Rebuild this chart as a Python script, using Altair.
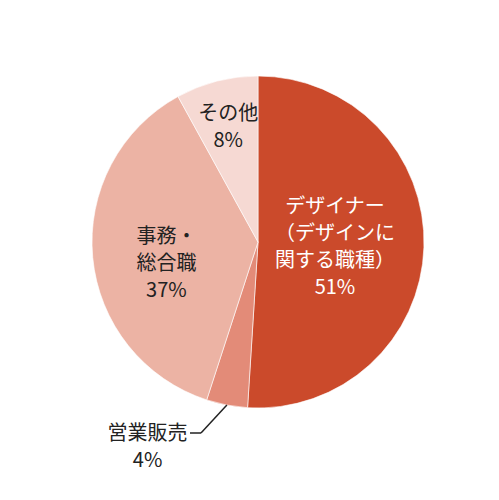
import altair as alt
import pandas as pd

categories = ["デザイナー（デザインに関する職種）", "営業販売", "事務・総合職", "その他"]
values = [51, 4, 37, 8]
label_names = ["デザイナー\n（デザインに\n関する職種）", "営業販売", "事務・\n総合職", "その他"]
colors = ["#CB4A2B", "#E38B78", "#ECB3A4", "#F6D9D3"]

df = pd.DataFrame({
    "order": list(range(len(categories))),
    "category": categories,
    "value": values,
    "label": [f"{n}\n{v}%" for n, v in zip(label_names, values)],
})

CX, CY, R = 250, 234, 166
TAU = 6.283185307179586

theta_scale = alt.Scale(domain=[0, 100], range=[0, TAU])

base = alt.Chart(df).transform_window(
    end="sum(value)", sort=[alt.SortField("order")], frame=[None, 0]
).transform_calculate(
    start="datum.end - datum.value",
    mid="datum.end - datum.value / 2",
)

arcs = base.mark_arc(radius=R, stroke="white", strokeWidth=0.6).encode(
    theta=alt.Theta("start:Q", scale=theta_scale),
    theta2="end:Q",
    x=alt.value(CX),
    y=alt.value(CY),
    color=alt.Color("category:N", scale=alt.Scale(domain=categories, range=colors), legend=None),
)

# label placement (style): radius, dx, dy, text colour
label_style = {
    "デザイナー（デザインに関する職種）": (77, 0, -37, "white"),
    "営業販売": (205, -72, -9, "#222222"),
    "事務・総合職": (92, 0, -14, "#222222"),
    "その他": (120, 0, -12, "#222222"),
}

layers = [arcs]
for cat, (rad, dx, dy, col) in label_style.items():
    layers.append(
        base.transform_filter(alt.datum.category == cat).mark_text(
            radius=rad, dx=dx, dy=dy, color=col, fontSize=20, lineHeight=27,
            font="Noto Sans CJK JP", lineBreak="\n", align="center", baseline="middle",
        ).encode(
            theta=alt.Theta("mid:Q", scale=theta_scale),
            x=alt.value(CX),
            y=alt.value(CY),
            text="label:N",
        )
    )

# leader line for the small slice
leader_src = base.transform_filter(alt.datum.category == "営業販売").transform_calculate(
    px=f"{CX} + {R} * sin(datum.mid / 100 * {TAU})",
    py=f"{CY} - {R} * cos(datum.mid / 100 * {TAU})",
)
leader1 = leader_src.mark_rule(color="#222222", strokeWidth=1.5).encode(
    x=alt.X("px:Q", scale=None), y=alt.Y("py:Q", scale=None),
    x2=alt.value(193), y2=alt.value(425),
)
leader2 = leader_src.mark_rule(color="#222222", strokeWidth=1.5).encode(
    x=alt.value(193), y=alt.value(425), x2=alt.value(182), y2=alt.value(425),
)
layers += [leader1, leader2]

chart = alt.layer(*layers).properties(
    width=483, height=484, padding=0, autosize=alt.AutoSizeParams(type="none")
).configure_view(stroke=None)

chart.save("out.html", embed_options={"renderer": "svg", "actions": False})
